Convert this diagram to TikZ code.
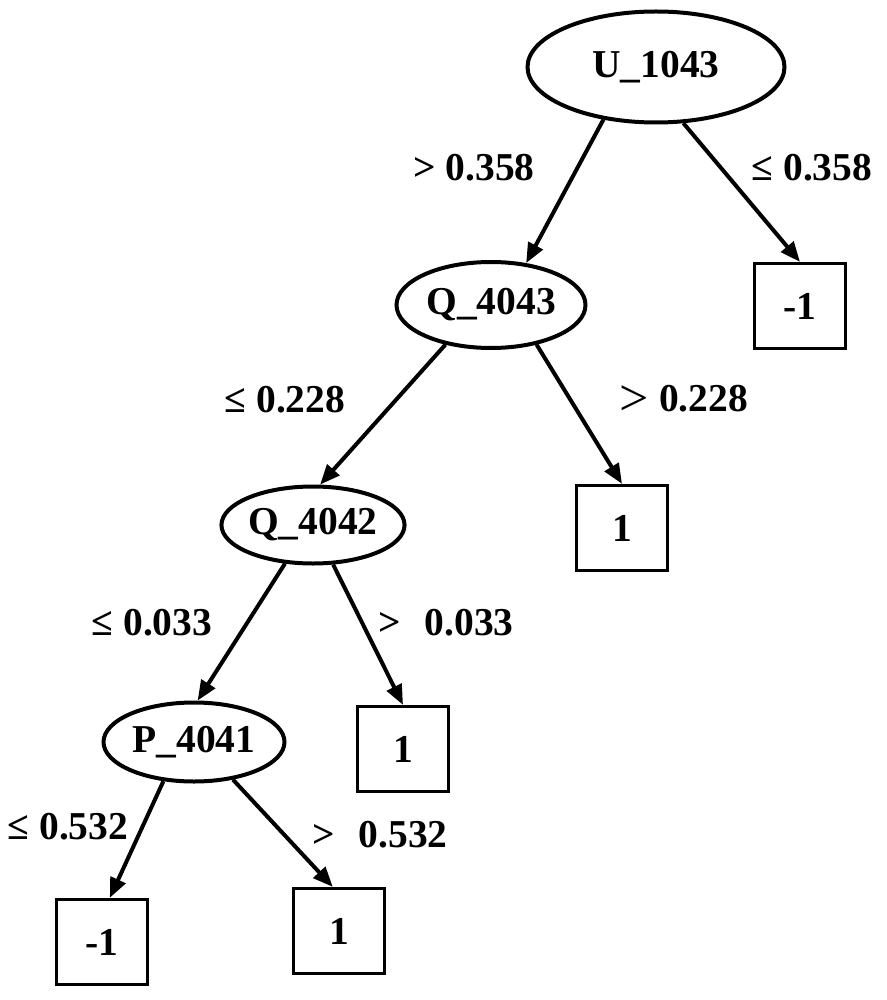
\documentclass[tikz,border=0pt]{standalone}
\usepackage{fontspec}
\setmainfont{Liberation Serif}
\usetikzlibrary{shapes.geometric,arrows.meta}
\begin{document}
\begin{tikzpicture}[x=1pt,y=-1pt,
  every node/.style={font=\fontsize{39.5}{41}\selectfont\bfseries},
  split/.style={ellipse,draw,line width=4pt,inner sep=0pt},
  leaf/.style={rectangle,draw,line width=3.2pt,inner sep=0pt,minimum width=91pt,minimum height=85pt},
  lbl/.style={inner sep=0pt},
  edge/.style={line width=4pt,-{Triangle[length=20pt,width=16pt]}}]
\useasboundingbox (0,0) rectangle (886,1000);
\node[split,minimum width=257pt,minimum height=111pt] (U) at (656,67) {U\_1043};
\node[split,minimum width=189pt,minimum height=86pt] (Q3) at (491,305) {Q\_4043};
\node[split,minimum width=174pt,minimum height=77pt] (Q2) at (313,525) {Q\_4042};
\node[split,minimum width=181pt,minimum height=79pt] (P) at (194,742) {P\_4041};
\node[leaf] (L1) at (800,306) {-1};
\node[leaf] (L2) at (622,528) {1};
\node[leaf] (L3) at (403,749) {1};
\node[leaf] (L4) at (102,942) {-1};
\node[leaf] (L5) at (339,931) {1};
\draw[edge] (U.225) -- (Q3.50);
\draw[edge] (U.296) -- (L1.north);
\draw[edge] (Q3.221) -- (Q2.80);
\draw[edge] (Q3.319) -- (L2.north);
\draw[edge] (Q2.234) -- (P.85);
\draw[edge] (Q2.297) -- (L3.north);
\draw[edge] (P.232) -- (L4.80);
\draw[edge] (P.316) -- (L5.98);
\node[lbl] (e1) at (474,168) {> 0.358};
\node[lbl] (e2) at (812,168) {≤ 0.358};
\node[lbl] (e3) at (285,400) {≤ 0.228};
\node[lbl] (e4) at (684,400) {\raisebox{-4pt}{\fontsize{52}{52}\selectfont\mdseries >} 0.228};
\node[lbl] (e5) at (152,623) {≤ 0.033};
\node[lbl] (e6) at (446,623) {>\hspace{0.6em}0.033};
\node[lbl] (e7) at (68,827) {≤ 0.532};
\node[lbl] (e8) at (380,835) {>\hspace{0.6em}0.532};
\end{tikzpicture}
\end{document}
